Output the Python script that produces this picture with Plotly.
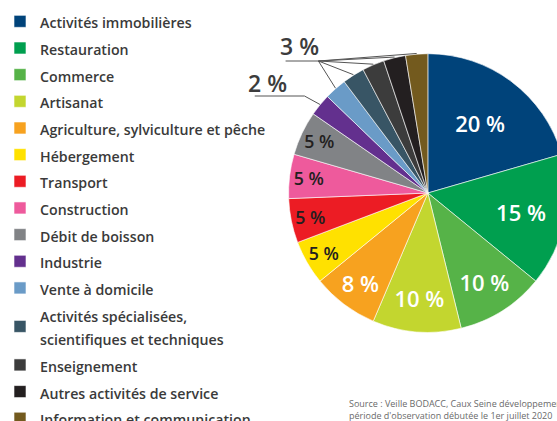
import math
import plotly.graph_objects as go

# ---------------- data ----------------
categories = [
    "Activités immobilières", "Restauration", "Commerce", "Artisanat",
    "Agriculture, sylviculture et pêche", "Hébergement", "Transport",
    "Construction", "Débit de boisson", "Industrie", "Vente à domicile",
    "Activités spécialisées,|scientifiques et techniques", "Enseignement",
    "Autres activités de service", "Information et communication",
]
counts = [8, 6, 4, 4, 3, 2, 2, 2, 2, 1, 1, 1, 1, 1, 1]
pct_labels = ["20 %", "15 %", "10 %", "10 %", "8 %", "5 %", "5 %", "5 %",
              "5 %", "2 %", "3 %", "3 %", "3 %", "3 %", "3 %"]
colors = ["#00437a", "#009f4f", "#56b348", "#c3d62f", "#f7a21f", "#ffe100",
          "#ec1c24", "#ee5a9c", "#818386", "#63308e", "#6a9bc7", "#385565",
          "#3c3c3c", "#231f20", "#735a1e"]
source_lines = ["Source : Veille BODACC, Caux Seine développement",
                "période d'observation débutée le 1er juillet 2020"]

# ---------------- layout geometry (pixels) ----------------
W, H = 600, 450
CX, CY, R = 427, 193, 140

def px(x):
    return x / W

def py(y):
    return 1 - y / H

legend_labels = ["<br>".join(f"<span style='font-size:14.2px'>{p}</span>" for p in c.split("|"))
                 for c in categories]

inside = [i < 9 for i in range(len(counts))]
text_pos = ["inside" if f else "none" for f in inside]
text_colors = ["#ffffff"] * 5 + ["#231f20"] * 10
text_sizes = [22, 22, 22, 22, 22, 20, 20, 20, 20, 20, 20, 20, 20, 20, 20]

fig = go.Figure(go.Pie(
    labels=legend_labels,
    values=counts,
    text=pct_labels,
    textinfo="text",
    textposition=text_pos,
    insidetextorientation="horizontal",
    textfont=dict(family="Open Sans", color=text_colors, size=text_sizes, weight=600),
    marker=dict(colors=colors, line=dict(color="rgba(255,255,255,0.85)", width=0.7)),
    sort=False,
    direction="clockwise",
    rotation=0,
    hoverinfo="label+value",
    domain=dict(x=[px(CX - R), px(CX + R)], y=[py(CY + R), py(CY - R)]),
))

# leader lines from labels to slice mid-points (computed from the data)
total = sum(counts)
cum = 0
mids = []
for v in counts:
    mids.append((cum + v / 2) / total * 2 * math.pi)
    cum += v

def edge_point(i):
    a = mids[i]
    return CX + R * math.sin(a), CY - R * math.cos(a)

line_style = dict(color="#555555", width=1)
shapes = []
# "2 %" -> Industrie
shapes.append(dict(type="line", xref="paper", yref="paper",
                   x0=px(253), y0=py(96), x1=px(303), y1=py(96), line=line_style))
ex, ey = edge_point(9)
shapes.append(dict(type="line", xref="paper", yref="paper",
                   x0=px(303), y0=py(96), x1=px(ex), y1=py(ey), line=line_style))
# "3 %" -> five small slices
shapes.append(dict(type="line", xref="paper", yref="paper",
                   x0=px(284), y0=py(61), x1=px(317), y1=py(61), line=line_style))
for i in range(10, 15):
    ex, ey = edge_point(i)
    shapes.append(dict(type="line", xref="paper", yref="paper",
                       x0=px(317), y0=py(61), x1=px(ex), y1=py(ey), line=line_style))

annotations = [
    dict(text=pct_labels[9], x=px(266), y=py(83), xref="paper", yref="paper",
         xanchor="center", yanchor="middle", showarrow=False,
         font=dict(family="Open Sans", size=23, color="#3c3c3c", weight=600)),
    dict(text=pct_labels[10], x=px(298), y=py(46), xref="paper", yref="paper",
         xanchor="center", yanchor="middle", showarrow=False,
         font=dict(family="Open Sans", size=23, color="#3c3c3c", weight=600)),
    dict(text="<br>".join(source_lines), x=px(346), y=py(409), xref="paper", yref="paper",
         xanchor="left", yanchor="middle", align="left", showarrow=False,
         font=dict(family="Open Sans", size=9, color="#6a6a6a")),
]

fig.update_layout(
    width=W, height=H,
    margin=dict(l=0, r=0, t=0, b=0),
    paper_bgcolor="white",
    plot_bgcolor="white",
    showlegend=True,
    legend=dict(x=px(-3), y=py(3), xanchor="left", yanchor="top",
                font=dict(family="Open Sans", size=18.2, color="#3a3a3a", weight=600),
                bgcolor="rgba(0,0,0,0)", maxheight=1000, traceorder="normal"),
    shapes=shapes,
    annotations=annotations,
)

fig.write_html(
    "out.html",
    config={"displayModeBar": False},
    post_script="document.body.style.margin='0';document.body.style.overflow='hidden';"
                "document.documentElement.style.overflow='hidden';",
)
